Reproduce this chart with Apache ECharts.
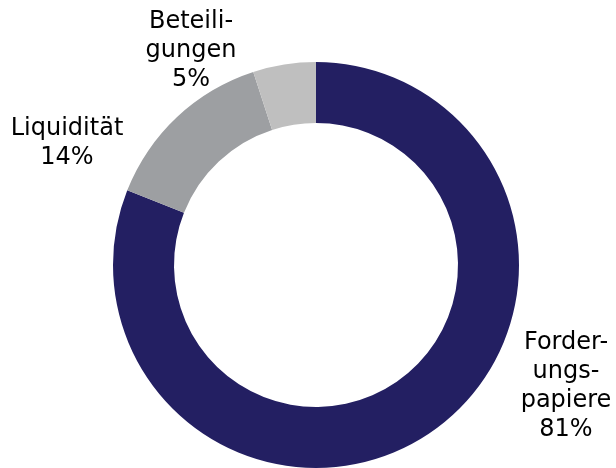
<!DOCTYPE html>
<html>
<head>
<meta charset="utf-8">
<script src="https://cdn.jsdelivr.net/npm/echarts@6/dist/echarts.min.js"></script>
<style>
  html, body { margin: 0; padding: 0; background: #fff; }
  #chart { width: 616px; height: 468px; }
</style>
</head>
<body>
<div id="chart"></div>
<script>
const categories = ['Forder-\nungs-\npapiere', 'Liquidität', 'Beteili-\ngungen']
const values = [81, 14, 5]
const colors = ['#231f62', '#9d9fa2', '#bfbfbf']
// where each label block is centred (px)
const labelPos = [[566, 386], [67, 143], [191, 51]]

const chart = echarts.init(document.getElementById('chart'))

chart.setOption({
  animation: false,
  series: [
    {
      type: 'pie',
      center: [316, 265],
      radius: [142, 203],
      startAngle: 90,
      clockwise: true,
      data: categories.map((name, i) => ({
        name,
        value: values[i],
        itemStyle: { color: colors[i] },
      })),
      label: {
        show: true,
        position: 'outside',
        formatter: p => p.name + '\n' + p.value + '%',
        fontFamily: 'DejaVu Sans',
        fontSize: 24,
        lineHeight: 29,
        color: '#000',
        align: 'center',
        overflow: 'none',
      },
      labelLine: { show: false },
      labelLayout: p => ({
        x: labelPos[p.dataIndex][0],
        y: labelPos[p.dataIndex][1],
        align: 'center',
        verticalAlign: 'middle',
      }),
    },
  ],
})
</script>
</body>
</html>
